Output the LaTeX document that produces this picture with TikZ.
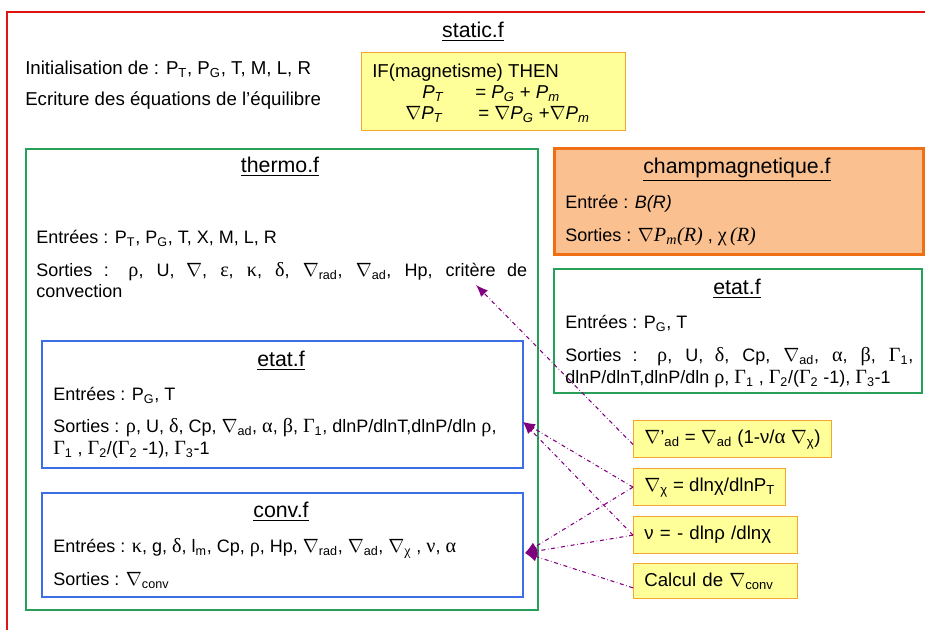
\documentclass[tikz,border=0pt]{standalone}
\usepackage{fontspec}
\setmainfont{Liberation Sans}
\newfontfamily\grk[Scale=1.12]{Liberation Serif}
\usetikzlibrary{arrows.meta}

\definecolor{cadre}{RGB}{225,20,20}
\definecolor{vert}{RGB}{40,160,90}
\definecolor{bleu}{RGB}{60,110,230}
\definecolor{orangef}{RGB}{250,192,144}
\definecolor{oranged}{RGB}{240,110,20}
\definecolor{jaune}{RGB}{255,255,153}
\definecolor{jauned}{RGB}{245,165,50}
\definecolor{violet}{RGB}{128,0,128}

\newcommand{\lo}[1]{\textsubscript{#1}}
\newcommand{\gk}[1]{{\grk #1}}
\newcommand{\nab}{$\nabla$}

\begin{document}
\begin{tikzpicture}[x=0.75pt, y=-0.75pt,
    every node/.style={font=\fontsize{13.5}{16.5}\selectfont},
    txt/.style={anchor=base west, inner sep=0pt},
    grand/.style={font=\fontsize{14}{16.5}\selectfont},
    titre/.style={anchor=base, inner sep=0pt, font=\fontsize{16}{19}\selectfont},
    cont/.style={draw, line width=1.5pt, anchor=north west, inner sep=0pt},
    greenbox/.style={cont, draw=vert},
    bluebox/.style={cont, draw=bleu},
    champbox/.style={cont, draw=oranged, fill=orangef, line width=2pt},
    ifbox/.style={cont, draw=jauned, fill=jaune, line width=1pt},
    formbox/.style={draw=jauned, fill=jaune, line width=1pt, anchor=north west, inner xsep=8pt, minimum height=27.75pt, align=left, grand},
    lien/.style={draw=violet, dash dot, line width=0.8pt, -{Latex[length=9pt,width=7pt]}}
]
    \useasboundingbox (0,0) rectangle (925,630);

    % cadre
    \draw[cadre, line width=1.5pt] (925,12) -- (7,12) -- (7,630);

    % static.f
    \node[titre] (static) at (473,38) {\underline{static.f}};
    \node[txt, grand] (init) at (25,75) {Initialisation de : P\lo{T}, P\lo{G}, T, M, L, R};
    \node[txt, grand] (ecrit) at (25,106) {Ecriture des équations de l’équilibre};
    \node[ifbox, minimum width=198pt, minimum height=58.5pt] (magn) at (361,52) {};
    \node[txt, anchor=north west, align=left, font=\fontsize{14}{15.75}\selectfont] (magnt) at (372,64)
        {IF(magnetisme) THEN\\
         \hspace*{37.5pt}\makebox[39.75pt][l]{\textit{P}\lo{\itshape T}}= \textit{P}\lo{\itshape G} + \textit{P}\lo{\itshape m}\\
         \hspace*{24.75pt}\makebox[54.75pt][l]{\nab\textit{P}\lo{\itshape T}}= \nab\textit{P}\lo{\itshape G} +\nab\textit{P}\lo{\itshape m}};

    % thermo.f
    \node[greenbox, minimum width=384pt, minimum height=345.75pt] (thermo) at (25,148) {};
    \node[titre] (thermot) at (280,173) {\underline{thermo.f}};
    \node[txt] (thermoe) at (36,244) {Entrées : P\lo{T}, P\lo{G}, T, X, M, L, R};
    \node[txt] (thermos) at (36,277) {\makebox[368.25pt][s]{Sorties : \gk{ρ}, U, \nab, \gk{ε}, \gk{κ}, \gk{δ}, \nab\lo{rad}, \nab\lo{ad}, Hp, critère de}};
    \node[txt] (thermoc) at (36,298) {convection};

    % etat.f (gauche)
    \node[bluebox, minimum width=360.75pt, minimum height=95.25pt] (etatg) at (41,340) {};
    \node[titre] (etatgt) at (281,367) {\underline{etat.f}};
    \node[txt] (etatge) at (53,401) {Entrées : P\lo{G}, T};
    \node[txt] (etatgs) at (53,433) {Sorties : \gk{ρ}, U, \gk{δ}, Cp, \nab\lo{ad}, \gk{α}, \gk{β}, \gk{Γ}\lo{1}, dlnP/dlnT,dlnP/dln \gk{ρ},};
    \node[txt] (etatgs2) at (53,455) {\gk{Γ}\lo{1} , \gk{Γ}\lo{2}/(\gk{Γ}\lo{2} -1), \gk{Γ}\lo{3}-1};

    % conv.f
    \node[bluebox, minimum width=360.75pt, minimum height=78pt] (conv) at (41,492) {};
    \node[titre] (convt) at (281,518) {\underline{conv.f}};
    \node[txt] (conve) at (53,553) {Entrées : \gk{κ}, g, \gk{δ}, l\lo{m}, Cp, \gk{ρ}, Hp, \nab\lo{rad}, \nab\lo{ad}, \nab\lo{\gk{χ}} , \gk{ν}, \gk{α}};
    \node[txt] (convs) at (53,586) {Sorties : \nab\lo{conv}};

    % champmagnetique.f
    \node[champbox, minimum width=276.75pt, minimum height=79.5pt] (champ) at (553,147) {};
    \node[titre] (champt) at (737,174) {\underline{champmagnetique.f}};
    \node[txt] (champe) at (565,209) {Entrée : \textit{B(R)}};
    \node[txt] (champs) at (565,242) {Sorties : \nab{\grk\itshape P\lo{m}(R)} , {\grk χ\,\itshape (R)}};

    % etat.f (droite)
    \node[greenbox, minimum width=276pt, minimum height=93pt] (etatd) at (553,268) {};
    \node[titre] (etatdt) at (737,295) {\underline{etat.f}};
    \node[txt] (etatde) at (565,329) {Entrées : P\lo{G}, T};
    \node[txt] (etatds) at (565,362) {\makebox[261pt][s]{Sorties : \gk{ρ}, U, \gk{δ}, Cp, \nab\lo{ad}, \gk{α}, \gk{β}, \gk{Γ}\lo{1},}};
    \node[txt] (etatds2) at (565,384) {dlnP/dlnT,dlnP/dln \gk{ρ}, \gk{Γ}\lo{1} , \gk{Γ}\lo{2}/(\gk{Γ}\lo{2} -1), \gk{Γ}\lo{3}-1};

    % formules
    \node[formbox] (f1) at (633,420) {\nab’\lo{ad} = \nab\lo{ad} (1-ν/\gk{α} \nab\lo{χ})};
    \node[formbox] (f2) at (633,468) {\nab\lo{χ} = dlnχ/dlnP\lo{T}};
    \node[formbox, text width=107pt] (f3) at (633,516) {ν = - dlnρ /dlnχ};
    \node[formbox, text width=107pt, minimum height=26.25pt] (f4) at (633,563) {Calcul de \nab\lo{conv}};

    % liens
    \coordinate (crit) at (476,285);
    \coordinate (etatin) at (523,422);
    \coordinate (convin) at (525,553);
    \draw[lien] ([yshift=-4pt]f1.west) -- (crit);
    \draw[lien] (f2.west) -- (etatin);
    \draw[lien] (f3.west) -- (etatin);
    \draw[lien] (f2.west) -- (convin);
    \draw[lien] (f3.west) -- (convin);
    \draw[lien] ([yshift=-5pt]f4.west) -- (convin);
\end{tikzpicture}
\end{document}
